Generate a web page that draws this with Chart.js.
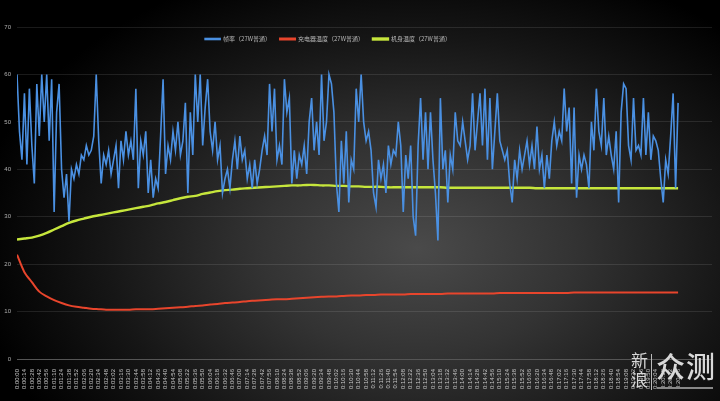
<!DOCTYPE html>
<html>
<head>
<meta charset="utf-8">
<script src="https://cdn.jsdelivr.net/npm/chart.js@4"></script>
<style>
  html, body { margin: 0; padding: 0; }
  body {
    width: 720px; height: 401px; overflow: hidden; position: relative;
    background: radial-gradient(ellipse 62% 75% at 58% 62%, #4a4a4a 0%, #333 35%, #161616 70%, #000 100%);
  }
  #wrap { position: absolute; left: 0; top: 0; width: 720px; height: 401px; }
  #mark { position: absolute; left: 631px; top: 350px; color: #d8d8d8; font-family: "Noto Sans CJK SC"; }
  #mark .xl { position: absolute; left: 0; top: 0; font-size: 17px; line-height: 19px; width: 18px; }
  #mark .bar { position: absolute; left: 20px; top: 4px; width: 1px; height: 36px; background: #bbb; }
  #mark .zc { position: absolute; left: 25px; top: -3px; font-size: 29px; line-height: 36px; letter-spacing: 1px; white-space: nowrap; font-weight: 500; }
  #mark .ul { position: absolute; left: 26px; top: 37px; width: 56px; height: 2px; background: #888; }
</style>
</head>
<body>
<div id="wrap"><canvas id="chart" width="720" height="401"></canvas></div>
<div id="mark"><div class="xl">新浪</div><div class="bar"></div><div class="zc">众测</div><div class="ul"></div></div>
<script>
// time labels, one every 14 s
const tickLabels = [
  "0:00:00", "0:00:14", "0:00:28", "0:00:42", "0:00:56", "0:01:10", "0:01:24", "0:01:38", "0:01:52", "0:02:06",
  "0:02:20", "0:02:34", "0:02:48", "0:03:02", "0:03:16", "0:03:30", "0:03:44", "0:03:58", "0:04:12", "0:04:26",
  "0:04:40", "0:04:54", "0:05:08", "0:05:22", "0:05:36", "0:05:50", "0:06:04", "0:06:18", "0:06:32", "0:06:46",
  "0:07:00", "0:07:14", "0:07:28", "0:07:42", "0:07:56", "0:08:10", "0:08:24", "0:08:38", "0:08:52", "0:09:06",
  "0:09:20", "0:09:34", "0:09:48", "0:10:02", "0:10:16", "0:10:30", "0:10:44", "0:10:58", "0:11:12", "0:11:26",
  "0:11:40", "0:11:54", "0:12:08", "0:12:22", "0:12:36", "0:12:50", "0:13:04", "0:13:18", "0:13:32", "0:13:46",
  "0:14:00", "0:14:14", "0:14:28", "0:14:42", "0:14:56", "0:15:10", "0:15:24", "0:15:38", "0:15:52", "0:16:06",
  "0:16:20", "0:16:34", "0:16:48", "0:17:02", "0:17:16", "0:17:30", "0:17:44", "0:17:58", "0:18:12", "0:18:26",
  "0:18:40", "0:18:54", "0:19:08", "0:19:22", "0:19:36", "0:19:50", "0:20:04", "0:20:18", "0:20:32", "0:20:46"
];

const seriesNames = ["帧率（27W普通）", "充电器温度（27W普通）", "机身温度（27W普通）"];

// frame rate, three samples per tick label
const frameRate = [
  60, 48, 42, 56, 41, 57, 45, 37, 58, 47, 60, 50, 60, 46, 59, 31, 52, 58, 40, 34,
  39, 29, 40, 38, 41, 39, 43, 42, 45, 43, 44, 47, 60, 46, 37, 43, 41, 44, 39, 42,
  45, 36, 46, 42, 48, 43, 46, 42, 57, 36, 46, 43, 48, 35, 42, 34, 38, 36, 47, 59,
  39, 45, 42, 48, 44, 50, 43, 46, 54, 35, 52, 43, 60, 50, 60, 45, 53, 59, 48, 44,
  50, 42, 45, 35, 38, 40, 36, 42, 46, 40, 47, 42, 44, 38, 41, 36, 42, 37, 40, 44,
  47, 43, 58, 48, 57, 42, 45, 41, 59, 52, 55, 37, 44, 38, 43, 41, 45, 39, 50, 55,
  44, 50, 43, 60, 46, 50, 60, 58, 52, 37, 31, 46, 37, 48, 33, 42, 40, 57, 50, 60,
  50, 46, 48, 44, 35, 32, 42, 38, 41, 35, 45, 41, 44, 43, 50, 45, 31, 43, 38, 45,
  30, 26, 45, 55, 42, 52, 40, 52, 42, 35, 25, 55, 40, 44, 33, 43, 40, 52, 46, 45,
  50, 46, 42, 45, 56, 44, 50, 56, 45, 57, 42, 55, 40, 48, 56, 46, 44, 42, 44, 37,
  33, 42, 38, 44, 40, 43, 46, 41, 45, 40, 49, 40, 43, 36, 43, 38, 46, 50, 45, 48,
  46, 57, 48, 53, 37, 53, 34, 43, 40, 43, 41, 36, 50, 44, 57, 48, 45, 55, 43, 47,
  43, 40, 48, 33, 52, 58, 57, 45, 42, 55, 44, 45, 43, 55, 43, 52, 42, 47, 46, 44,
  38, 33, 42, 39, 47, 56, 36, 54
];

// temperatures, one sample per tick label
const chargerTemp = [
  22.0, 18.3, 16.2, 14.2, 13.2, 12.4, 11.8, 11.3, 11.0, 10.8,
  10.6, 10.5, 10.4, 10.4, 10.4, 10.4, 10.5, 10.5, 10.5, 10.6,
  10.7, 10.8, 10.9, 11.0, 11.2, 11.3, 11.5, 11.6, 11.8, 11.9,
  12.0, 12.2, 12.3, 12.4, 12.5, 12.6, 12.6, 12.7, 12.8, 12.9,
  13.0, 13.1, 13.2, 13.2, 13.3, 13.4, 13.4, 13.5, 13.5, 13.6,
  13.6, 13.6, 13.6, 13.7, 13.7, 13.7, 13.7, 13.7, 13.8, 13.8,
  13.8, 13.8, 13.8, 13.8, 13.8, 13.9, 13.9, 13.9, 13.9, 13.9,
  13.9, 13.9, 13.9, 13.9, 13.9, 14.0, 14.0, 14.0, 14.0, 14.0,
  14.0, 14.0, 14.0, 14.0, 14.0, 14.0, 14.0, 14.0, 14.0, 14.0
];
const bodyTemp = [
  25.2, 25.4, 25.6, 26.0, 26.6, 27.3, 28.0, 28.7, 29.2, 29.6,
  30.0, 30.3, 30.6, 30.9, 31.2, 31.5, 31.8, 32.1, 32.4, 32.8,
  33.1, 33.5, 33.9, 34.2, 34.4, 34.8, 35.1, 35.4, 35.6, 35.7,
  35.9, 36.0, 36.1, 36.2, 36.3, 36.4, 36.5, 36.6, 36.6, 36.7,
  36.7, 36.6, 36.6, 36.5, 36.5, 36.4, 36.4, 36.3, 36.3, 36.3,
  36.2, 36.2, 36.2, 36.2, 36.2, 36.2, 36.2, 36.2, 36.1, 36.1,
  36.1, 36.1, 36.1, 36.1, 36.1, 36.1, 36.1, 36.1, 36.1, 36.1,
  36.0, 36.0, 36.0, 36.0, 36.0, 36.0, 36.0, 36.0, 36.0, 36.0,
  36.0, 36.0, 36.0, 36.0, 36.0, 36.0, 36.0, 36.0, 36.0, 36.0
];

const yTicks = [0, 10, 20, 30, 40, 50, 60, 70];

const PER_TICK = 3;

const fpsPoints = frameRate.map((y, i) => ({ x: i, y: y }));
const chargerPoints = chargerTemp.map((y, k) => ({ x: k * PER_TICK, y: y }));
const bodyPoints = bodyTemp.map((y, k) => ({ x: k * PER_TICK, y: y }));

// legend sits over the top of the plot: take no room in the layout,
// then give the box its height back so it is not clipped away
const flatLegend = {
  id: "flatLegend",
  beforeInit(chart) {
    const legend = chart.legend;
    const fit = legend.fit;
    legend.fit = function () {
      fit.call(this);
      this.height = 0;
    };
  },
  afterLayout(chart) {
    const legend = chart.legend;
    legend.height = 20;
    legend.bottom = legend.top + 20;
    // the original legend is centred a little left of the canvas middle
    legend.left = 0;
    legend.right = 656;
    legend.width = 656;
  },
};

const ctx = document.getElementById("chart").getContext("2d");
new Chart(ctx, {
  type: "line",
  data: {
    datasets: [
      {
        label: seriesNames[0],
        data: fpsPoints,
        borderColor: "#4a90e2",
        backgroundColor: "#4a90e2",
        borderWidth: 1.6,
        pointRadius: 0,
        tension: 0,
      },
      {
        label: seriesNames[1],
        data: chargerPoints,
        borderColor: "#e8452c",
        backgroundColor: "#e8452c",
        borderWidth: 2,
        pointRadius: 0,
        tension: 0.3,
      },
      {
        label: seriesNames[2],
        data: bodyPoints,
        borderColor: "#c6e63c",
        backgroundColor: "#c6e63c",
        borderWidth: 2.4,
        pointRadius: 0,
        tension: 0.3,
      },
    ],
  },
  options: {
    responsive: false,
    animation: false,
    layout: { padding: { top: 27, right: 8, bottom: 0, left: 0 } },
    plugins: {
      tooltip: { enabled: false },
      legend: {
        position: "top",
        align: "center",
        labels: {
          color: "#b8b8b8",
          font: { family: "Noto Sans CJK SC", size: 6 },
          boxWidth: 15,
          boxHeight: 1,
          padding: 9,
        },
      },
    },
    scales: {
      x: {
        type: "linear",
        min: 0,
        max: 280.7,
        grid: { display: false },
        border: { color: "#555", width: 1 },
        afterFit: (scale) => { scale.height = 42; },
        afterBuildTicks: (scale) => {
          scale.ticks = tickLabels.map((_, k) => ({ value: k * PER_TICK }));
        },
        ticks: {
          autoSkip: false,
          minRotation: 90,
          maxRotation: 90,
          padding: 2,
          color: "#c8c8c8",
          font: { family: "Liberation Sans", size: 6 },
          callback: (value) => tickLabels[Math.round(value / PER_TICK)],
        },
      },
      y: {
        min: 0,
        max: 70,
        afterFit: (scale) => { scale.width = 17; },
        afterBuildTicks: (scale) => {
          scale.ticks = yTicks.map((v) => ({ value: v }));
        },
        grid: { color: "rgba(255,255,255,0.1)", drawTicks: false },
        border: { display: false },
        ticks: {
          color: "#b0b0b0",
          padding: 6,
          font: { family: "Liberation Sans", size: 6 },
        },
      },
    },
  },
  plugins: [flatLegend],
});
</script>
</body>
</html>
